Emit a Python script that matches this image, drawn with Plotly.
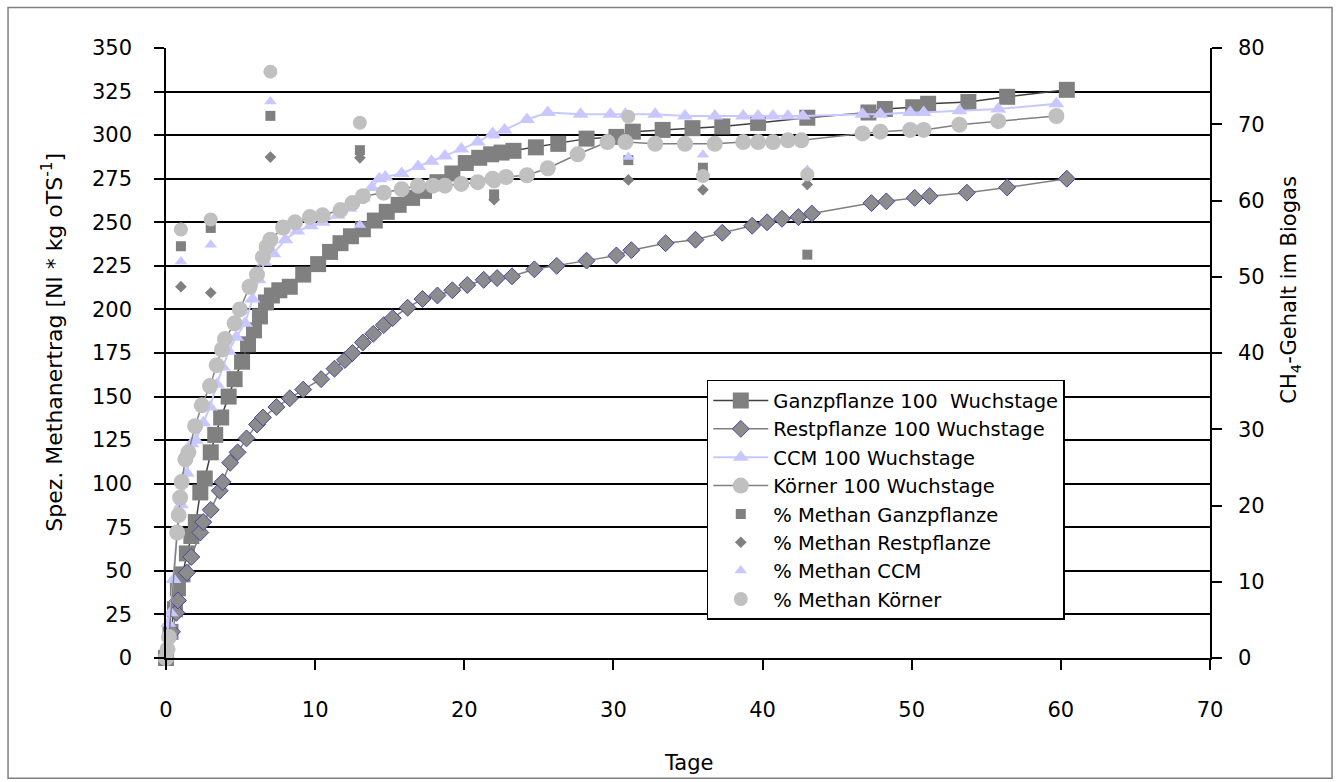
import plotly.graph_objects as go

# ---------------- data ----------------
ganz_days = [0, 0.3, 0.6, 0.8, 1.1, 1.4, 1.7, 2.0, 2.3, 2.6, 3.0, 3.3, 3.7, 4.2, 4.6, 5.1, 5.5, 5.9,
             6.3, 6.7, 7.1, 7.6, 8.3, 9.2, 10.2, 11.0, 11.7, 12.4, 13.2, 14.0, 14.8, 15.6, 16.5,
             17.3, 18.2, 19.2, 20.1, 21.0, 21.8, 22.5, 23.3, 24.8, 26.3, 28.2, 30.2, 31.3, 33.3,
             35.3, 37.3, 39.7, 43.0, 47.1, 48.2, 50.1, 51.1, 53.8, 56.4, 60.4]
ganz_vals = [0, 15, 28, 40, 48, 60, 70, 78, 95, 103, 118, 128, 138, 150, 160, 170, 180, 188,
             196, 204, 208, 211, 213, 220, 226, 233, 238, 242, 246, 251, 256, 260, 264,
             268, 273, 278, 284, 287, 289, 290, 291, 293, 295, 298, 299, 302, 303,
             304, 305, 307, 310, 313, 315, 316, 318, 319, 322, 326]

rest_days = [0, 0.4, 0.7, 0.8, 1.4, 1.7, 2.3, 2.5, 3.0, 3.6, 3.8, 4.3, 4.8, 5.4, 6.1, 6.5, 7.4,
             8.3, 9.2, 10.4, 11.3, 12.0, 12.5, 13.2, 13.9, 14.6, 15.2, 16.2, 17.2, 18.2, 19.2,
             20.2, 21.3, 22.2, 23.2, 24.7, 26.2, 28.2, 30.2, 31.2, 33.5, 35.5, 37.3, 39.3, 40.3,
             41.3, 42.4, 43.3, 47.3, 48.3, 50.2, 51.2, 53.7, 56.4, 60.4]
rest_vals = [0, 15, 26, 33, 49, 58, 72, 78, 85, 96, 101, 112, 118, 126, 134, 138, 144,
             149, 154, 160, 166, 171, 175, 181, 186, 191, 195, 201, 206, 208, 211,
             214, 217, 218, 219, 223, 225, 228, 231, 234, 238, 240, 244, 248, 250,
             252, 253, 255, 261, 262, 264, 265, 267, 270, 275]

ccm_days = [0, 0.15, 0.3, 0.5, 0.75, 1.0, 1.4, 1.7, 2.0, 2.5, 2.95, 3.4, 3.8, 4.2, 4.7, 5.3, 5.8,
            6.2, 6.6, 7.2, 8.0, 8.8, 9.7, 10.5, 11.5, 12.3, 13.2, 13.8, 14.3, 14.7, 15.8, 16.9,
            17.8, 18.7, 19.8, 20.9, 21.9, 22.7, 24.2, 25.6, 27.8, 29.8, 30.8, 32.8, 34.8, 36.8,
            38.7, 39.7, 40.7, 41.7, 42.7, 46.7, 47.9, 49.9, 50.8, 53.2, 55.8, 59.7]
ccm_vals = [0, 20, 26, 45, 73, 88, 106, 123, 125, 135, 144, 157, 167, 176, 184, 192, 206,
            217, 227, 232, 240, 245, 248, 250, 254, 258, 264, 270, 275, 276, 278, 282,
            285, 288, 292, 296, 301, 303, 309, 313, 312, 312, 312, 312, 311, 311,
            311, 311, 311, 311, 311, 312, 312, 313, 313, 314, 315, 318]

koerner_days = [0, 0.1, 0.2, 0.75, 0.85, 0.95, 1.05, 1.3, 1.5, 1.95, 2.4, 2.95, 3.4, 3.75, 3.95,
                4.6, 4.95, 5.6, 6.1, 6.5, 6.75, 7.0, 7.85, 8.65, 9.65, 10.5, 11.7, 12.5, 13.2,
                14.6, 15.8, 16.9, 17.9, 18.7, 19.8, 20.9, 21.9, 22.8, 24.2, 25.6, 27.6, 29.6,
                30.8, 32.8, 34.8, 36.8, 38.7, 39.7, 40.7, 41.7, 42.6, 46.7, 47.9, 49.9, 50.8,
                53.2, 55.8, 59.7]
koerner_vals = [0, 5, 12, 72, 82, 92, 101, 114, 118, 133, 145, 156, 168, 177, 183,
                192, 200, 213, 220, 230, 236, 240, 247, 250, 253, 254, 257, 261, 265,
                267, 269, 271, 271, 271, 272, 273, 275, 276, 277, 281, 289, 296,
                296, 295, 295, 295, 296, 296, 296, 297, 297, 301, 302, 303, 303,
                306, 308, 311]

pct_days = [1, 3, 7, 13, 22, 31, 36, 43]
pct_ganz = [54.0, 56.4, 71.1, 66.6, 60.8, 65.3, 64.3, 52.9]
pct_rest = [48.7, 47.9, 65.7, 65.6, 60.1, 62.7, 61.4, 62.1]
pct_ccm = [52.0, 54.2, 73.0, 56.8, 68.5, 65.7, 66.0, 64.0]
pct_koerner = [56.2, 57.5, 76.9, 70.2, 62.5, 71.0, 63.2, 63.4]

names = ["Ganzpflanze 100  Wuchstage", "Restpflanze 100 Wuchstage", "CCM 100 Wuchstage",
         "Körner 100 Wuchstage", "% Methan Ganzpflanze", "% Methan Restpflanze",
         "% Methan CCM", "% Methan Körner"]

# ---------------- figure ----------------
FONT = "DejaVu Sans"
fig = go.Figure()

fig.add_trace(go.Scatter(x=ganz_days, y=ganz_vals, name=names[0], mode="lines+markers",
                         marker=dict(symbol="square", size=16, color="#808080"),
                         line=dict(color="#404040", width=1.5), cliponaxis=False))
fig.add_trace(go.Scatter(x=rest_days, y=rest_vals, name=names[1], mode="lines+markers",
                         marker=dict(symbol="diamond", size=13, color="#8C8C8C",
                                     line=dict(color="#4848A0", width=1)),
                         line=dict(color="#808080", width=1.5), cliponaxis=False))
fig.add_trace(go.Scatter(x=ccm_days, y=ccm_vals, name=names[2], mode="lines+markers",
                         marker=dict(symbol="triangle-up", size=14, color="#C8C8FF"),
                         line=dict(color="#C8C8FF", width=2), cliponaxis=False))
fig.add_trace(go.Scatter(x=koerner_days, y=koerner_vals, name=names[3], mode="lines+markers",
                         marker=dict(symbol="circle", size=16, color="#C0C0C0"),
                         line=dict(color="#808080", width=1.5), cliponaxis=False))

fig.add_trace(go.Scatter(x=pct_days, y=pct_ganz, name=names[4], mode="markers", yaxis="y2",
                         marker=dict(symbol="square", size=10, color="#808080"), cliponaxis=False))
fig.add_trace(go.Scatter(x=pct_days, y=pct_rest, name=names[5], mode="markers", yaxis="y2",
                         marker=dict(symbol="diamond", size=9, color="#808080"), cliponaxis=False))
fig.add_trace(go.Scatter(x=pct_days, y=pct_ccm, name=names[6], mode="markers", yaxis="y2",
                         marker=dict(symbol="triangle-up", size=11, color="#C8C8FF"), cliponaxis=False))
fig.add_trace(go.Scatter(x=pct_days, y=pct_koerner, name=names[7], mode="markers", yaxis="y2",
                         marker=dict(symbol="circle", size=14, color="#C0C0C0"), cliponaxis=False))

axis_common = dict(showline=True, linecolor="#000000", linewidth=1.5, ticks="outside",
                   ticklen=10, tickcolor="#000000", tickwidth=1.5, zeroline=False,
                   tickfont=dict(family=FONT, size=21, color="#000000"))

fig.update_layout(
    width=1340, height=782,
    margin=dict(l=166, r=130, t=48, b=124),
    paper_bgcolor="#FFFFFF", plot_bgcolor="#FFFFFF",
    font=dict(family=FONT, size=21, color="#000000"),
    showlegend=True,
    xaxis=dict(range=[0, 70], dtick=10, showgrid=False, ticklabelstandoff=22, **axis_common),
    yaxis=dict(range=[0, 350], dtick=25, showgrid=True, gridcolor="#000000", gridwidth=1.5,
               ticklabelstandoff=18, **axis_common),
    yaxis2=dict(range=[0, 80], dtick=10, overlaying="y", side="right", showgrid=False,
                ticklabelstandoff=12, **axis_common),
    legend=dict(x=0.518, y=0.456, xanchor="left", yanchor="top", bgcolor="#FFFFFF",
                bordercolor="#000000", borderwidth=1.5, itemwidth=55,
                font=dict(family=FONT, size=19.5, color="#000000"), tracegroupgap=0),
    annotations=[
        dict(text="Tage", xref="paper", yref="paper", x=0.5, y=-0.1723, showarrow=False,
             xanchor="center", yanchor="middle", font=dict(family=FONT, size=21)),
        dict(text="Spez. Methanertrag [Nl * kg oTS<sup>-1</sup>]", xref="paper", yref="paper",
             x=-0.1092, y=0.5185, showarrow=False, textangle=-90,
             xanchor="center", yanchor="middle", font=dict(family=FONT, size=22)),
        dict(text="CH<sub>4</sub>-Gehalt im Biogas", xref="paper", yref="paper",
             x=1.0766, y=0.6038, showarrow=False, textangle=-90,
             xanchor="center", yanchor="middle", font=dict(family=FONT, size=21)),
    ],
    shapes=[dict(type="rect", xref="paper", yref="paper", x0=-0.1513, x1=1.1169,
                 y0=-0.197, y1=1.0665, line=dict(color="#808080", width=1.5),
                 fillcolor="rgba(0,0,0,0)", layer="below")],
)

fig.write_html("out.html", config={"displayModeBar": False})
